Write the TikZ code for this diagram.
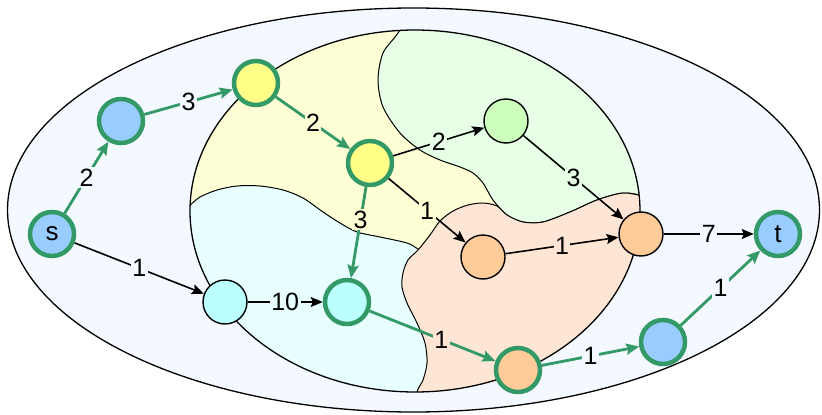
\documentclass[tikz,border=0pt]{standalone}
\usepackage{fontspec}
\setmainfont{Liberation Sans}
\usetikzlibrary{arrows.meta}

\definecolor{outerfill}{HTML}{F4F8FF}
\definecolor{yelreg}{HTML}{FFFFD6}
\definecolor{grnreg}{HTML}{E6FFE6}
\definecolor{cyanreg}{HTML}{E8FFFF}
\definecolor{orgreg}{HTML}{FFE6D4}
\definecolor{nblue}{HTML}{99CCFF}
\definecolor{nyel}{HTML}{FFFF88}
\definecolor{ngrn}{HTML}{CCFFBB}
\definecolor{norg}{HTML}{FFCC99}
\definecolor{ncyan}{HTML}{BBFFFF}
\definecolor{pathgreen}{HTML}{339966}

\begin{document}
\begin{tikzpicture}[x=1pt,y=-1pt,
  vtx/.style={circle, minimum size=44pt, inner sep=0pt, draw=black, line width=1.4pt, font=\fontsize{26}{26}\selectfont},
  hot/.style={vtx, draw=pathgreen, line width=4.5pt},
  edge/.style={draw=black, line width=1.6pt, -{Stealth[length=12pt,width=10pt,inset=2pt]}},
  hedge/.style={draw=pathgreen, line width=2.8pt, -{Stealth[length=13pt,width=11pt,inset=2pt]}},
  lbl/.style={font=\fontsize{25}{25}\selectfont, inner sep=1.5pt, fill=#1, text=black},
  region/.style={draw=black, line width=1pt, fill=#1},
]
\useasboundingbox (0,0) rectangle (822,415);

% outer ellipse
\draw[fill=outerfill, line width=1.3pt] (413.5,210) ellipse [x radius=406, y radius=202];

% inner ellipse with regions
\fill[yelreg] (415,211) ellipse [x radius=225, y radius=181];
\begin{scope}
  \clip (415,211) ellipse [x radius=225, y radius=181];
  \filldraw[region=grnreg] plot[smooth] coordinates {(414,5) (398,33) (383,53) (378,80) (383,107) (400,133) (420,150) (440,160) (460,167) (473,173) (483,183) (493,200) (507,215) (523,222) (543,222) (570,212) (597,200) (623,193) (645,196) (690,205)} -- (690,0) -- cycle;
  \filldraw[region=cyanreg] plot[smooth] coordinates {(180,210) (190,205) (200,197) (217,190) (237,186) (260,186) (283,190) (303,198) (323,212) (340,223) (357,232) (380,237) (407,243) (418,249) (440,262)} -- (440,420) -- (180,420) -- cycle;
  \filldraw[region=orgreg] plot[smooth] coordinates {(690,200) (645,196) (623,193) (597,200) (570,212) (543,222) (523,222) (507,215) (497,206) (483,203) (468,205) (453,211) (440,221) (430,235) (418,250) (408,260) (403,273) (402,287) (407,303) (417,323) (425,343) (427,363) (423,380) (417,392) (412,420)} -- (690,420) -- cycle;
\end{scope}
\draw[line width=1.3pt] (415,211) ellipse [x radius=225, y radius=181];

% nodes
\node[hot, fill=nblue] (s) at (52,234) {s};
\node[hot, fill=nblue] (A) at (121,121) {};
\node[hot, fill=nyel] (B) at (256,83) {};
\node[hot, fill=nyel] (C) at (370,163) {};
\node[vtx, fill=ngrn] (D) at (506,121) {};
\node[vtx, fill=norg] (E) at (641,234) {};
\node[vtx, fill=norg] (F) at (483,257) {};
\node[hot, fill=nblue] (t) at (778,234) {t};
\node[vtx, fill=ncyan] (G) at (225,302) {};
\node[hot, fill=ncyan] (H) at (347,302) {};
\node[hot, fill=norg] (I) at (518,370) {};
\node[hot, fill=nblue] (J) at (663,342) {};

% edges
\draw[hedge] (s) -- node[lbl=outerfill] {2} (A);
\draw[hedge] (A) -- node[lbl=outerfill] {3} (B);
\draw[hedge] (B) -- node[lbl=yelreg] {2} (C);
\draw[edge] (C) -- node[lbl=grnreg] {2} (D);
\draw[edge] (C) -- node[lbl=yelreg] {1} (F);
\draw[hedge] (C) -- node[lbl=yelreg, pos=0.36] {3} (H);
\draw[edge] (D) -- node[lbl=grnreg] {3} (E);
\draw[edge] (F) -- node[lbl=orgreg] {1} (E);
\draw[edge] (E) -- node[lbl=outerfill] {7} (t);
\draw[edge] (s) -- node[lbl=outerfill] {1} (G);
\draw[edge] (G) -- node[lbl=cyanreg] {10} (H);
\draw[hedge] (H) -- node[lbl=orgreg, pos=0.57] {1} (I);
\draw[hedge] (I) -- node[lbl=outerfill] {1} (J);
\draw[hedge] (J) -- node[lbl=outerfill] {1} (t);
\end{tikzpicture}
\end{document}
